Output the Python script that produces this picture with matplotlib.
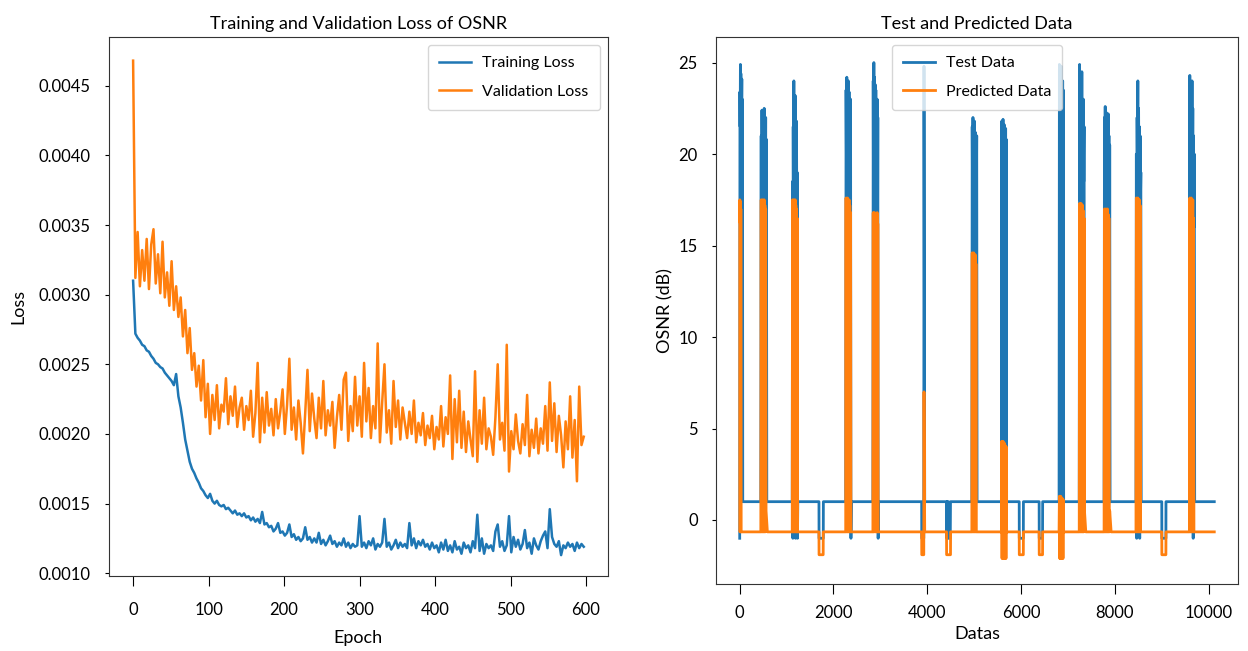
import numpy as np
import matplotlib
matplotlib.use("Agg")
import matplotlib.pyplot as plt

plt.rcParams['font.family'] = ['Lato', 'DejaVu Sans']

# ---- left panel: loss per epoch (read every 3 epochs, units of 1e-4) ----
epochs = np.arange(0, 600, 3)

train_loss = [
    31.0, 27.2, 26.9, 26.7, 26.4, 26.3, 26.0, 25.9, 25.6, 25.4, 25.1,
    25.0, 24.8, 24.7, 24.4, 24.2, 24.0, 23.8, 23.5, 24.3, 22.7,
    21.9, 20.8, 19.6, 18.8, 18.0, 17.5, 17.2, 16.8, 16.5, 16.1,
    15.9, 15.6, 15.4, 15.7, 15.2, 15.0, 15.2, 14.9, 14.8, 14.9,
    14.6, 14.7, 14.5, 14.3, 14.5, 14.2, 14.3, 14.1, 14.3, 14.0,
    14.1, 13.8, 14.0, 13.7, 13.9, 13.6, 14.4, 13.5, 13.6, 13.3,
    13.4, 13.0, 13.2, 13.6, 12.9, 13.0, 12.7, 12.9, 13.5, 12.6,
    12.8, 12.4, 12.6, 12.3, 12.5, 13.3, 12.4, 12.6, 12.2, 12.5,
    12.2, 12.9, 12.1, 12.4, 12.0, 12.3, 12.7, 12.1, 12.3, 11.9,
    12.2, 12.0, 12.5, 11.9, 12.2, 11.8, 12.1, 11.9, 12.0, 14.1,
    11.9, 12.2, 11.8, 12.3, 12.0, 12.5, 11.7, 12.1, 11.9, 12.2,
    13.9, 11.9, 12.2, 11.7, 12.0, 12.4, 11.8, 12.2, 11.9, 12.1,
    11.8, 13.6, 12.0, 12.5, 11.8, 12.3, 12.0, 12.4, 11.9, 12.1,
    11.7, 12.2, 11.8, 12.0, 11.5, 12.2, 11.7, 12.4, 11.6, 12.0,
    11.5, 12.3, 11.7, 11.9, 11.4, 12.2, 11.8, 12.0, 11.5, 12.3,
    11.8, 14.2, 11.6, 12.5, 11.4, 12.1, 11.8, 12.0, 11.6, 13.0,
    13.5, 11.9, 12.3, 11.6, 12.0, 14.1, 11.5, 12.6, 11.9, 12.4,
    11.7, 12.1, 13.1, 11.8, 12.2, 11.4, 12.5, 12.0, 11.7, 12.3,
    12.7, 13.0, 11.8, 14.6, 12.6, 12.1, 11.9, 12.3, 11.3, 12.0,
    11.8, 12.2, 11.9, 12.1, 11.6, 12.2, 11.8, 12.1, 11.9,
]

val_loss = [
    46.8, 31.2, 34.5, 30.6, 33.2, 31.0, 34.0, 30.4, 33.6, 34.7, 30.8,
    32.9, 30.1, 33.8, 29.8, 31.6, 29.2, 32.4, 28.9, 30.6, 28.4,
    29.8, 27.0, 28.9, 25.8, 27.6, 24.6, 25.8, 23.4, 24.9, 22.4,
    25.3, 21.2, 23.6, 20.0, 22.8, 21.0, 23.5, 20.4, 22.1, 21.6,
    24.0, 20.7, 22.7, 21.3, 23.4, 20.5, 21.9, 22.6, 20.3, 22.0,
    21.0, 23.1, 19.8, 21.5, 25.1, 19.4, 22.6, 20.1, 23.0, 20.6,
    21.8, 19.9, 22.5, 20.4, 21.6, 23.2, 20.0, 22.1, 25.4, 20.3,
    21.9, 19.6, 22.4, 20.8, 18.6, 21.5, 24.6, 20.2, 22.9, 21.1,
    19.7, 22.6, 20.4, 23.8, 19.9, 21.7, 20.6, 22.3, 19.0, 21.2,
    22.8, 20.3, 23.9, 24.4, 19.5, 22.0, 20.2, 24.1, 20.6, 22.7,
    19.8, 25.1, 20.9, 23.3, 19.7, 22.0, 20.4, 26.5, 19.4, 22.3,
    25.0, 20.1, 21.7, 19.3, 23.8, 20.5, 22.4, 19.6, 21.9, 20.8,
    19.7, 21.6, 20.0, 22.4, 19.4, 20.8, 19.9, 21.5, 19.2, 20.6,
    19.7, 21.3, 18.9, 20.5, 19.6, 22.0, 19.1, 21.2, 20.0, 24.2,
    18.2, 22.5, 19.4, 23.1, 19.0, 21.6, 18.7, 20.9, 19.6, 18.4,
    24.5, 18.0, 21.7, 19.3, 22.6, 18.9, 20.4, 19.8, 18.5, 21.2,
    25.0, 19.6, 20.8, 18.8, 26.4, 17.3, 20.2, 18.9, 21.4, 19.5,
    18.6, 20.7, 19.2, 22.8, 18.4, 20.3, 19.0, 21.1, 18.6, 20.4,
    19.3, 22.0, 18.8, 23.7, 19.5, 22.2, 18.7, 21.3, 19.9, 17.6,
    20.9, 18.9, 22.7, 18.3, 21.0, 16.6, 23.4, 19.2, 19.8,
]

# ---- right panel: OSNR test vs predicted (breakpoints) ----
test_x = [
    0, 5, 10, 15, 20, 25, 30, 35, 40, 45, 50, 55, 60, 65,
    450, 458, 466, 474, 482, 490, 498, 506, 514, 522, 530, 538, 546, 554, 562, 570, 578,
    1120, 1127, 1134, 1141, 1148, 1155, 1162, 1169, 1176, 1183, 1190, 1197, 1204, 1211, 1218, 1225, 1232, 1239, 1246,
    1690, 1692, 1782, 1784,
    2260, 2268, 2276, 2284, 2292, 2300, 2308, 2316, 2324, 2332, 2340, 2348, 2356, 2364, 2372, 2380,
    2840, 2847, 2854, 2861, 2868, 2875, 2882, 2889, 2896, 2903, 2910, 2917, 2924, 2931, 2938, 2945, 2952, 2959,
    3880, 3882, 3925, 3930, 3945,
    4410, 4414, 4425, 4435, 4450, 4465, 4490, 4495,
    4950, 4958, 4966, 4974, 4982, 4990, 4998, 5006, 5014, 5022, 5030, 5038, 5046, 5054, 5062,
    5580, 5587, 5594, 5601, 5608, 5615, 5622, 5629, 5636, 5643, 5650, 5657, 5664, 5671, 5678, 5685, 5692,
    5960, 5962, 6048, 6050,
    6385, 6387, 6458, 6460,
    6810, 6817, 6824, 6831, 6838, 6845, 6852, 6859, 6866, 6873, 6880, 6887, 6894, 6901, 6908,
    7240, 7248, 7256, 7264, 7272, 7280, 7288, 7296, 7304, 7312, 7320, 7328, 7336, 7344, 7352,
    7770, 7778, 7786, 7794, 7802, 7810, 7818, 7826, 7834, 7842, 7850, 7858, 7866, 7874, 7882, 7890, 7898,
    8450, 8458, 8466, 8474, 8482, 8490, 8498, 8506, 8514, 8522, 8530, 8538, 8546, 8554, 8562,
    9000, 9002, 9088, 9090,
    9590, 9598, 9606, 9614, 9622, 9630, 9638, 9646, 9654, 9662, 9670, 9678, 9686, 9694, 9702,
    10120,
]
test_y = [
    -1.0, 23.4, 21.5, 24.9, 22.0, 24.4, 21.6, 23.8, 22.3, 24.1, 1.0, 23.0, 21.8, 1.0,
    1.0, 21.0, 1.0, 22.4, 14.5, 22.2, 1.0, 21.6, 16.0, 22.5, 1.0, 21.2, 15.5, 22.0, 1.0, 20.8, 1.0,
    1.0, 18.5, -1.0, 21.5, 16.0, 24.0, 1.0, 22.0, 17.0, 23.2, -1.0, 20.5, 1.0, 21.8, 16.5, 19.0, -1.0, 1.0, 1.0,
    1.0, -1.0, -1.0, 1.0,
    1.0, 23.5, 19.5, 24.2, 1.0, 23.0, 20.0, 24.0, 16.0, 23.4, 1.0, 22.5, 20.0, 23.0, -1.0, 1.0,
    1.0, 24.0, 16.0, 25.0, 1.0, 24.2, 15.0, 23.8, 14.8, 23.5, 1.0, 22.8, 15.5, 23.0, 14.8, 22.0, -1.0, 1.0,
    1.0, -1.0, -1.0, 24.8, 1.0,
    1.0, -1.0, 1.0, -1.0, 1.0, -1.0, -1.0, 1.0,
    1.0, 21.5, 17.0, 22.0, 1.0, 21.0, 16.0, 21.8, 14.6, 21.2, 1.0, 20.5, 17.3, 21.0, 1.0,
    1.0, 21.8, 4.0, 21.5, 1.0, 21.9, 4.5, 21.2, 1.0, 21.6, 4.2, 21.0, -1.0, 21.4, 1.0, 20.8, 1.0,
    1.0, -1.0, -1.0, 1.0,
    1.0, -1.0, -1.0, 1.0,
    1.0, 24.9, 1.2, 24.6, 1.0, 24.2, 1.5, 24.8, 1.0, 23.8, 1.2, 24.0, 1.0, 23.5, 1.0,
    1.0, 24.9, 17.5, 24.0, 1.0, 23.5, 18.0, 24.5, 17.0, 22.0, 1.0, 23.0, 18.5, 21.5, 1.0,
    1.0, 22.0, 16.0, 22.6, 1.0, 22.3, 17.0, 22.0, 16.5, 21.5, 1.0, 22.2, 16.0, 21.0, 1.0, 20.5, 1.0,
    1.0, 20.0, -1.0, 22.0, 17.5, 24.0, 1.0, 22.5, 18.0, 21.5, -1.0, 21.0, 17.5, 19.0, 1.0,
    1.0, -1.0, -1.0, 1.0,
    1.0, 24.3, 17.0, 23.8, 1.0, 23.5, 18.0, 24.0, 17.0, 22.5, -1.0, 21.0, 16.0, 20.0, 1.0,
    1.0,
]

pred_x = [
    0, 4, 8, 12, 16, 20, 24, 30,
    450, 458, 466, 474, 482, 490, 498, 506, 514, 522, 530, 538, 546, 554, 562, 590,
    1120, 1127, 1134, 1141, 1148, 1155, 1162, 1169, 1176, 1183, 1190, 1197, 1204, 1211, 1218, 1225, 1232,
    1690, 1692, 1780, 1782,
    2260, 2268, 2276, 2284, 2292, 2300, 2308, 2316, 2324, 2332, 2340, 2348, 2356, 2364, 2372,
    2840, 2847, 2854, 2861, 2868, 2875, 2882, 2889, 2896, 2903, 2910, 2917, 2924, 2931, 2938, 2945, 2952,
    3880, 3882, 3925, 3930, 3945,
    4410, 4412, 4495, 4497,
    4950, 4958, 4966, 4974, 4982, 4990, 4998, 5006, 5014, 5022, 5030, 5038, 5046, 5054,
    5580, 5587, 5594, 5601, 5608, 5615, 5622, 5629, 5636, 5643, 5650, 5657, 5664, 5671, 5678, 5685, 5692,
    5960, 5962, 6048, 6050,
    6385, 6387, 6458, 6460,
    6810, 6817, 6824, 6831, 6838, 6845, 6852, 6859, 6866, 6873, 6880, 6887, 6894, 6901, 6908,
    7240, 7248, 7256, 7264, 7272, 7280, 7288, 7296, 7304, 7312, 7320, 7328, 7336, 7344, 7352, 7380,
    7770, 7778, 7786, 7794, 7802, 7810, 7818, 7826, 7834, 7842, 7850, 7858, 7866, 7874, 7882, 7890, 7920,
    8450, 8458, 8466, 8474, 8482, 8490, 8498, 8506, 8514, 8522, 8530, 8538, 8546, 8554,
    9000, 9002, 9088, 9090,
    9590, 9598, 9606, 9614, 9622, 9630, 9638, 9646, 9654, 9662, 9670, 9678, 9686, 9694,
    10120,
]
pred_y = [
    16.3, 17.5, -0.65, 17.4, 16.4, -0.65, 17.0, -0.65,
    -0.65, 17.5, -0.65, 17.4, -0.65, 17.5, -0.65, 17.3, -0.65, 17.5, -0.65, 17.2, -0.65, 17.0, 0.5, -0.65,
    -0.65, 17.5, -0.65, 17.3, -0.65, 17.5, -0.65, 17.4, -0.65, 17.5, -0.65, 17.2, -0.65, 17.0, -0.65, 16.5, -0.65,
    -0.65, -1.9, -1.9, -0.65,
    -0.65, 17.6, -0.65, 17.4, -0.65, 17.6, -0.65, 17.3, -0.65, 17.5, -0.65, 17.2, -0.65, 16.8, -0.65,
    -0.65, 16.8, -0.65, 16.6, -0.65, 16.8, 14.7, 16.5, -0.65, 16.7, -0.65, 16.4, -0.65, 16.8, -0.65, 16.2, -0.65,
    -0.65, -1.9, -1.9, 7.0, -0.65,
    -0.65, -1.9, -1.9, -0.65,
    -0.65, 14.6, -0.65, 14.4, -0.65, 14.6, -0.65, 14.2, -0.65, 14.5, -0.65, 14.0, -0.65, -0.65,
    -0.65, 4.3, -2.1, 4.2, -2.1, 4.3, -2.1, 4.0, -2.1, 4.2, -2.1, 4.1, -2.1, 3.9, -2.1, 4.0, -0.65,
    -0.65, -1.9, -1.9, -0.65,
    -0.65, -1.9, -1.9, -0.65,
    -0.65, 1.3, -2.1, 1.2, -2.1, 1.3, -2.1, 1.1, -2.1, 1.2, -2.1, 1.0, -2.1, 1.1, -0.65,
    -0.65, 17.3, -0.65, 17.2, -0.65, 17.3, -0.65, 17.0, -0.65, 17.2, -0.65, 16.9, -0.65, 16.5, 0.5, -0.65,
    -0.65, 17.0, -0.65, 16.9, -0.65, 17.0, -0.65, 16.8, -0.65, 17.0, -0.65, 16.7, -0.65, 16.5, -0.65, 0.5, -0.65,
    -0.65, 17.6, -0.65, 17.5, -0.65, 17.6, -0.65, 17.3, -0.65, 17.5, -0.65, 17.2, -0.65, -0.65,
    -0.65, -1.9, -1.9, -0.65,
    -0.65, 17.6, -0.65, 16.5, -0.65, 17.6, -0.65, 17.4, -0.65, 17.5, -0.65, 16.5, -0.65, -0.65,
    -0.65,
]

fig = plt.figure(figsize=(12.48, 6.51), dpi=100)

# left: training / validation loss
ax1 = fig.add_axes([0.0873, 0.1152, 0.3998, 0.828])
ax1.plot(epochs, np.array(train_loss) * 1e-4, color='#1f77b4', lw=1.8, label='Training Loss')
ax1.plot(epochs, np.array(val_loss) * 1e-4, color='#ff7f0e', lw=1.8, label='Validation Loss')
ax1.set_title('Training and Validation Loss of OSNR', fontsize=13)
ax1.set_xlabel('Epoch', fontsize=13, labelpad=8)
ax1.set_ylabel('Loss', fontsize=13, labelpad=9)
ax1.set_yticks([0.0010, 0.0015, 0.0020, 0.0025, 0.0030, 0.0035, 0.0040, 0.0045])
ax1.set_yticklabels(['0.0010', '0.0015', '0.0020', '0.0025', '0.0030', '0.0035', '0.0040', '0.0045'])
ax1.set_xticks([0, 100, 200, 300, 400, 500, 600])
ax1.set_xlim(-32, 629)
ax1.set_ylim(0.00098, 0.00485)
ax1.tick_params(axis='x', labelsize=12, length=7, pad=12)
ax1.tick_params(axis='y', labelsize=12, length=3, pad=10)
ax1.legend(loc='upper right', fontsize=11.5, labelspacing=0.9, borderpad=0.7,
           handlelength=2.0, handletextpad=0.7)

# right: test vs predicted OSNR
ax2 = fig.add_axes([0.5737, 0.1029, 0.4183, 0.8403])
ax2.plot(test_x, test_y, color='#1f77b4', lw=2.0, label='Test Data')
ax2.plot(pred_x, pred_y, color='#ff7f0e', lw=2.0, label='Predicted Data')
ax2.set_title('Test and Predicted Data', fontsize=13)
ax2.set_xlabel('Datas', fontsize=13)
ax2.set_ylabel('OSNR (dB)', fontsize=13)
ax2.set_xticks([0, 2000, 4000, 6000, 8000, 10000])
ax2.set_yticks([0, 5, 10, 15, 20, 25])
ax2.set_xlim(-506, 10626)
ax2.set_ylim(-3.5, 26.4)
ax2.tick_params(axis='x', labelsize=12, length=7, pad=8)
ax2.tick_params(axis='y', labelsize=12, length=3, pad=10)
ax2.legend(loc='upper center', fontsize=11.5, labelspacing=0.9, borderpad=0.7,
           handlelength=2.0, handletextpad=0.7)

for ax in (ax1, ax2):
    for s in ax.spines.values():
        s.set_color('#333333')

fig.savefig('out.png', dpi=100)
